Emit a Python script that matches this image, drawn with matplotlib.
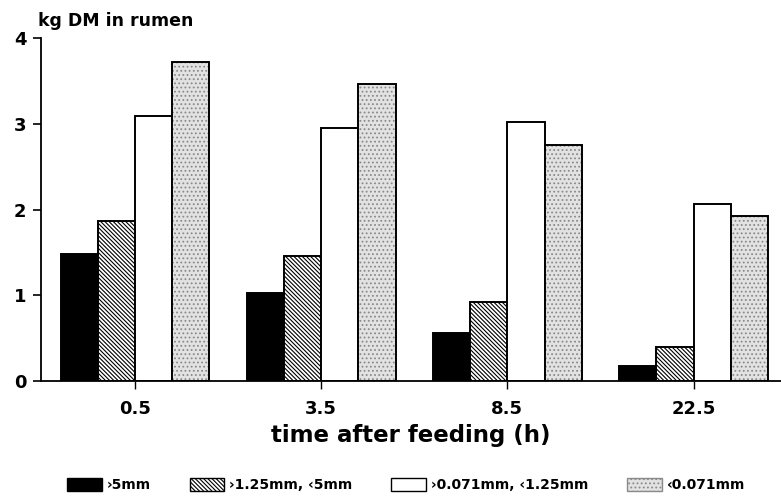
import matplotlib
matplotlib.use("Agg")
import matplotlib.pyplot as plt
import numpy as np
from matplotlib.patches import Patch

plt.rcParams['font.family'] = ['DejaVu Sans']
plt.rcParams['hatch.linewidth'] = 0.8

# data
times = ['0.5', '3.5', '8.5', '22.5']
labels = ['\u203a5mm', '\u203a1.25mm, \u20395mm', '\u203a0.071mm, \u20391.25mm', '\u20390.071mm']
coarse = [1.48, 1.03, 0.56, 0.18]
medium = [1.87, 1.46, 0.92, 0.40]
fine = [3.09, 2.95, 3.02, 2.06]
very_fine = [3.72, 3.47, 2.75, 1.92]

series = [coarse, medium, fine, very_fine]
faces = ['black', 'white', 'white', '#e2e2e2']
hatches = [None, '\\' * 8, None, '....']
hatch_cols = ['black', 'black', 'black', '#8a8a8a']

fig = plt.figure(figsize=(7.81, 4.97), dpi=100)
ax = fig.add_axes([0.0525, 0.2334, 0.9475, 0.690])

x = np.arange(len(times))
w = 0.2
offsets = [-1.5, -0.5, 0.5, 1.5]
for vals, off, fc, h, hc in zip(series, offsets, faces, hatches, hatch_cols):
    ax.bar(x + off * w, vals, w, facecolor=fc, edgecolor=hc,
           hatch=h, linewidth=0)
    ax.bar(x + off * w, vals, w, facecolor='none', edgecolor='black',
           linewidth=1.4)

ax.set_xlim(-0.505, 3.47)
ax.set_ylim(0, 4)
ax.set_yticks([0, 1, 2, 3, 4])
ax.set_xticks(x)
ax.set_xticklabels(times)
ax.spines['top'].set_visible(False)
ax.spines['right'].set_visible(False)
ax.spines['left'].set_linewidth(1.3)
ax.spines['bottom'].set_linewidth(1.3)
ax.tick_params(axis='y', direction='out', length=5.5, width=1.2, labelsize=13, pad=5)
ax.tick_params(axis='x', direction='out', length=6, width=1.0, labelsize=13, pad=8)
for t in ax.get_xticklabels() + ax.get_yticklabels():
    t.set_fontweight('bold')

fig.text(0.0487, 0.958, 'kg DM in rumen', fontsize=12.5, fontweight='bold',
         ha='left', va='center')
ax.set_xlabel('time after feeding (h)', fontsize=16.5, fontweight='bold', labelpad=4)

handles = [Patch(facecolor=fc, edgecolor='black' if i != 3 else '#8a8a8a',
                 hatch=h, linewidth=1) for i, (fc, h) in enumerate(zip(faces, hatches))]
fig.legend(handles, labels, loc='center', bbox_to_anchor=(0.52, 0.024),
           ncol=4, frameon=False, handlelength=2.5, handleheight=1.1,
           columnspacing=2.8, handletextpad=0.35, borderpad=0,
           prop={'weight': 'bold', 'size': 10})

fig.savefig('out.png', dpi=100)
